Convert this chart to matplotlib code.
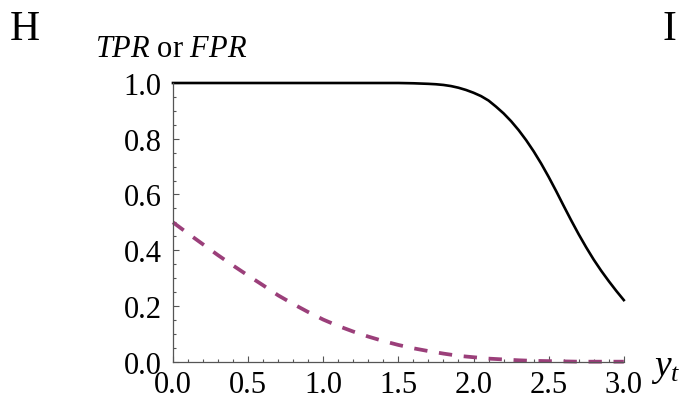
import matplotlib
matplotlib.use("Agg")
import matplotlib.pyplot as plt
from matplotlib.ticker import MultipleLocator

# values
fpr_x = [0.0, 0.1, 0.2, 0.3, 0.4, 0.5, 0.6, 0.7, 0.8, 0.9,
         1.0, 1.1, 1.2, 1.3, 1.4, 1.5, 1.6, 1.7, 1.8, 1.9,
         2.0, 2.1, 2.2, 2.3, 2.4, 2.5, 2.6, 2.7, 2.8, 2.9, 3.0]
fpr = [0.5, 0.46, 0.421, 0.382, 0.345, 0.309, 0.274, 0.238, 0.207, 0.178,
       0.151, 0.128, 0.108, 0.09, 0.074, 0.06, 0.048, 0.038, 0.029, 0.021,
       0.016, 0.011, 0.008, 0.005, 0.003, 0.002, 0.001, 0.0, 0.0, 0.0, 0.0]

tpr_x = [0.0, 0.5, 1.0, 1.5, 1.6, 1.7, 1.75, 1.8, 1.85, 1.9, 1.95,
         2.0, 2.05, 2.1, 2.15, 2.2, 2.25, 2.3, 2.35, 2.4, 2.45,
         2.5, 2.55, 2.6, 2.65, 2.7, 2.75, 2.8, 2.85, 2.9, 2.95, 3.0]
tpr = [1.0, 1.0, 1.0, 1.0, 0.999, 0.997, 0.9955, 0.993, 0.989, 0.983, 0.975,
       0.965, 0.953, 0.937, 0.915, 0.891, 0.863, 0.831, 0.795, 0.755, 0.711,
       0.663, 0.612, 0.559, 0.507, 0.457, 0.41, 0.366, 0.326, 0.289, 0.254, 0.221]

plt.rcParams['font.family'] = 'Liberation Serif'
plt.rcParams['mathtext.fontset'] = 'custom'
plt.rcParams['mathtext.rm'] = 'Liberation Serif'
plt.rcParams['mathtext.it'] = 'Liberation Serif:italic'
plt.rcParams['lines.scale_dashes'] = False

fig = plt.figure(figsize=(6.81, 4.06), dpi=100)
ax = fig.add_axes([0.254, 0.1067, 0.662, 0.6864])

ax.plot(fpr_x, fpr, color='#9b3f7a', lw=2.7, dashes=(9.6, 8.4), clip_on=False)
ax.plot(tpr_x, tpr, color='black', lw=1.9, clip_on=False)

ax.set_xlim(0, 3.0)
ax.set_ylim(0, 1.0)
for s in ['top', 'right']:
    ax.spines[s].set_visible(False)
for s in ['left', 'bottom']:
    ax.spines[s].set_color('#555555')
    ax.spines[s].set_linewidth(0.9)

ax.xaxis.set_major_locator(MultipleLocator(0.5))
ax.xaxis.set_minor_locator(MultipleLocator(0.1))
ax.yaxis.set_major_locator(MultipleLocator(0.2))
ax.yaxis.set_minor_locator(MultipleLocator(0.05))
ax.tick_params(which='both', direction='in', color='#555555', width=0.8)
ax.tick_params(which='major', length=4.5, labelsize=22)
ax.tick_params(which='minor', length=2.5)
ax.tick_params(axis='x', pad=6)
ax.tick_params(axis='y', pad=8)
ax.xaxis.set_major_formatter(lambda v, p: f"{v:.1f}")
ax.yaxis.set_major_formatter(lambda v, p: f"{v:.1f}")

fig.text(95 / 681, 1 - 57 / 406, r'$TPR$ or $FPR$', fontsize=22, ha='left', va='baseline')
fig.text(651 / 681, 1 - 376 / 406, r'$y_t$', fontsize=27, ha='left', va='baseline')
fig.text(10 / 681, 1 - 40 / 406, 'H', fontsize=30, ha='left', va='baseline')
fig.text(662 / 681, 1 - 40 / 406, 'I', fontsize=30, ha='left', va='baseline')

fig.savefig('out.png', dpi=100)
